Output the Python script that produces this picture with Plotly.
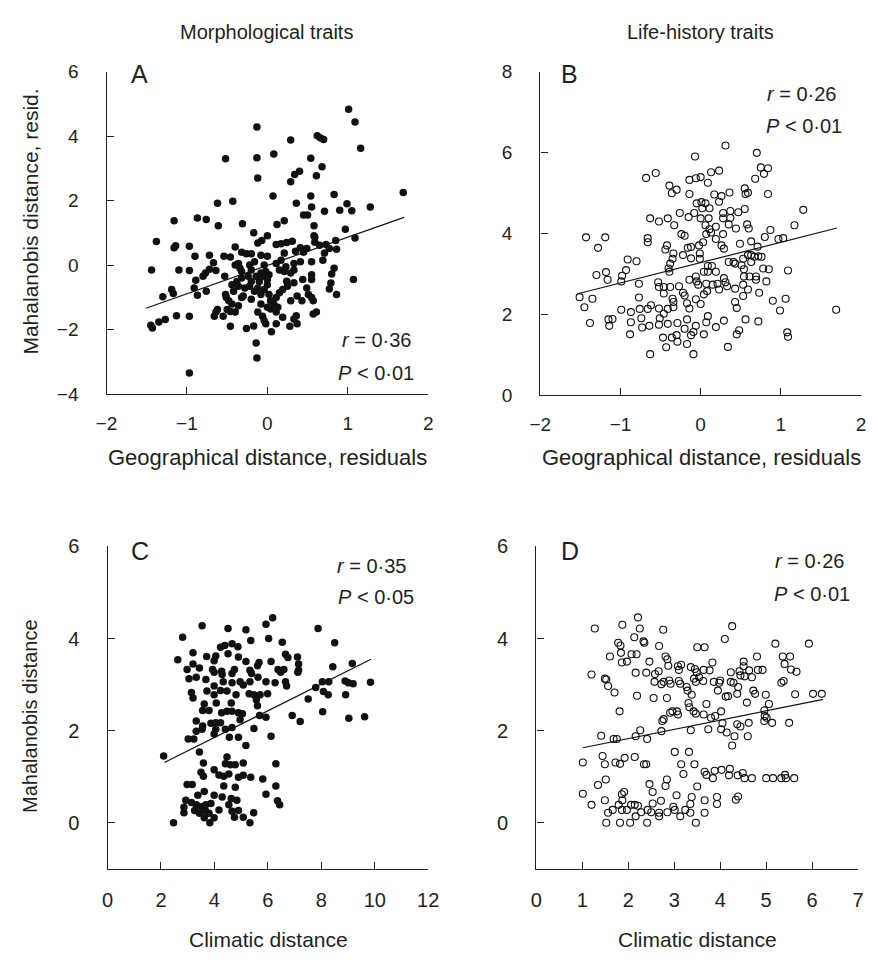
import plotly.graph_objects as go

# ---------------- data ----------------
# Panel A: morphological traits vs geographical distance residuals
a_points = [
    (1.01,4.83),(1.09,4.44),(-0.13,4.28),(0.29,3.88),(0.62,4.01),(0.66,3.94),(0.70,3.89),(1.16,3.62),
    (-0.52,3.30),(-0.13,3.33),(0.08,3.44),(0.54,3.31),(0.68,3.05),(-0.12,2.70),(0.34,2.81),(0.40,2.91),
    (0.61,2.77),(0.29,2.58),(0.07,2.14),(0.54,2.14),(0.83,2.19),(1.69,2.25),(-0.62,1.92),(-0.43,1.98),
    (0.36,1.92),(0.55,1.80),(0.99,1.90),(0.71,1.67),(0.90,1.70),(1.05,1.68),(1.28,1.80),(0.45,1.55),
    (0.50,1.55),(-1.16,1.37),(-0.87,1.46),(-0.76,1.41),(-0.61,1.22),(-0.31,1.28),(0.12,1.26),(0.21,1.37),
    (0.58,1.22),(-0.17,1.00),(0.00,0.91),(0.97,1.11),(0.58,0.91),
    (-1.38,0.73),(-1.16,0.54),(-1.14,0.60),(-0.97,0.58),(-0.90,0.27),(-0.72,0.30),(-0.67,0.07),(-0.54,0.27),
    (-0.46,0.25),(-0.40,0.56),(-0.32,0.40),(-0.26,0.35),(-0.20,0.35),(-0.12,0.68),(-0.07,0.76),(-0.08,0.30),
    (0.00,0.27),(0.11,0.64),(0.17,0.66),(0.24,0.70),(0.31,0.74),(0.21,0.37),(0.35,0.43),(0.41,0.54),
    (0.49,0.51),(0.59,0.86),(0.59,0.71),(0.65,0.61),(0.73,0.64),(0.77,0.51),(0.71,0.37),(0.85,0.76),
    (0.86,0.49),(1.09,0.84),
    (-1.44,-0.15),(-1.10,-0.15),(-0.97,-0.17),(-0.89,-0.47),(-0.80,-0.35),(-0.77,-0.25),(-0.72,-0.13),
    (-0.64,-0.17),(-0.53,-0.35),(-0.40,0.00),(-0.34,-0.10),(-0.36,0.05),(-0.22,0.00),(-0.20,-0.15),
    (-0.16,0.10),(-0.04,0.00),(-0.02,-0.20),(0.02,-0.30),(0.11,0.05),(0.15,-0.15),(0.21,-0.20),(0.29,-0.25),
    (0.33,0.05),(0.41,0.10),(0.55,0.10),(0.69,0.15),(0.55,-0.30),(0.55,-0.45),(0.44,-0.45),(0.33,-0.55),
    (0.24,-0.50),(0.80,-0.28),(0.83,-0.10),(1.07,-0.45),(0.79,-0.56),(0.77,-0.74),(0.86,-0.91),
    (-1.30,-0.98),(-1.19,-0.76),(-1.17,-0.88),(-0.91,-0.71),(-0.87,-0.94),(-0.76,-0.81),(-0.52,-0.91),
    (-0.51,-1.01),(-0.44,-0.61),(-0.42,-0.81),(-0.38,-0.51),(-0.32,-0.40),(-0.32,-1.01),(-0.28,-0.71),
    (-0.22,-0.66),(-0.20,-1.06),(-0.16,-0.81),(-0.12,-0.71),(-0.10,-0.51),(-0.08,-0.91),(-0.04,-0.76),
    (0.00,-0.61),(0.02,-0.91),(0.04,-1.11),(0.11,-1.01),(0.15,-0.86),(0.19,-0.76),(0.25,-0.66),(0.29,-1.11),
    (0.37,-0.96),(0.43,-1.11),(0.49,-0.71),(0.51,-0.91),(0.55,-1.01),(0.57,-1.11),(0.57,-1.52),(0.61,-1.46),
    (-1.45,-1.87),(-1.35,-1.77),(-1.27,-1.69),(-1.43,-1.95),(-1.13,-1.57),(-0.97,-1.59),(-0.66,-1.59),
    (-0.64,-1.46),(-0.62,-1.38),(-0.55,-1.59),(-0.50,-1.38),(-0.46,-1.44),(-0.40,-1.46),(-0.46,-1.90),
    (-0.26,-1.97),(-0.17,-1.89),(-0.12,-1.46),(-0.06,-1.59),(-0.04,-1.72),(-0.02,-1.82),(0.00,-1.31),
    (0.04,-1.36),(0.08,-1.21),(0.11,-1.46),(0.13,-1.31),(0.11,-1.82),(0.05,-2.07),(0.19,-1.62),(0.28,-1.90),
    (0.33,-1.67),(0.36,-1.57),(0.37,-1.82),(-0.14,-2.42),(-0.13,-2.88),(-0.97,-3.35),
    (-0.30,-0.96),(-0.48,-1.11),(-0.44,-1.21),(-0.36,-1.26),(-0.08,-1.21),(-0.06,-0.35),(0.00,-0.45),
    (-0.08,-0.25),(-0.14,-0.35),(-0.24,-0.35),(-0.20,-0.51),(-0.32,-0.20),(-0.36,-0.66),(0.23,-0.05),
    (0.33,-0.15),(0.45,0.40),(0.17,0.15),
]
a_fit_x = [-1.51, 1.70]
a_fit_y = [-1.34, 1.48]

# Panel B: life-history traits vs geographical distance residuals
b_points = [
    (0.31,6.17),(0.70,5.99),(-0.07,5.90),(-0.68,5.37),(-0.56,5.49),(-0.14,5.32),(-0.06,5.36),(0.00,5.39),
    (0.09,5.25),(0.13,5.51),(0.23,5.55),(0.75,5.63),(0.84,5.61),(0.79,5.47),(0.68,5.35),(-0.39,5.18),
    (-0.36,4.99),(-0.30,5.08),(-0.14,4.97),(0.17,4.96),(0.26,4.92),(0.36,5.01),(0.55,5.11),(0.56,4.97),
    (0.59,5.00),(0.84,4.97),(0.23,4.78),(-0.05,4.74),(0.01,4.77),(0.06,4.74),(0.02,4.62),(0.11,4.62),
    (-0.26,4.50),(-0.15,4.40),(-0.08,4.50),(0.00,4.37),(0.10,4.37),(0.28,4.50),(0.37,4.55),(0.47,4.52),
    (0.55,4.60),(0.28,4.37),(0.37,4.38),(1.28,4.58),(-0.63,4.37),(-0.52,4.29),(-0.41,4.37),(-0.33,4.20),
    (0.06,4.20),(0.35,4.22),(0.44,4.12),(0.58,4.22),(0.60,4.12),(0.87,4.08),(1.17,4.20),(0.11,4.10),
    (0.19,4.16),
    (-1.43,3.90),(-1.19,3.90),(-1.28,3.64),(-0.66,3.88),(-0.66,3.78),(-0.42,3.70),(-0.44,3.60),(-0.34,3.50),
    (-0.35,3.37),(-0.38,3.25),(-0.40,3.13),(-0.39,3.05),(-0.24,3.98),(-0.20,3.94),(-0.16,3.64),(-0.12,3.66),
    (-0.22,3.46),(-0.12,3.38),(-0.02,3.70),(-0.01,3.50),(-0.01,3.37),(0.03,3.78),(0.07,3.98),(0.13,4.02),
    (0.19,3.86),(0.28,3.98),(0.26,3.70),(0.29,3.62),(0.49,3.74),(0.63,3.80),(0.71,3.67),(0.80,3.91),
    (0.97,3.86),(1.03,3.88),
    (0.35,3.29),(0.41,3.29),(0.43,3.25),(0.53,3.37),(0.59,3.46),(0.63,3.46),(0.67,3.42),(0.72,3.43),
    (0.76,3.42),(0.63,3.29),(0.51,3.21),(0.54,3.11),(0.54,2.93),(0.61,2.93),(0.69,2.93),(0.69,2.85),
    (0.78,3.13),(0.85,3.11),(0.82,2.81),(1.09,3.08),
    (0.09,3.19),(0.14,3.19),(0.04,3.05),(0.09,3.05),(0.19,3.05),(-0.06,2.93),(-0.05,2.81),(-0.03,2.73),
    (-0.14,2.85),(0.07,2.75),(0.15,2.73),(0.21,2.75),(0.29,2.89),(0.31,2.79),(0.23,2.61),(0.33,2.69),
    (0.43,2.63),(0.53,2.73),(0.59,2.61),(0.53,2.45),(0.43,2.30),(0.45,2.15),(0.73,2.53),(0.90,2.33),
    (1.06,2.38),(0.99,2.09),(1.69,2.11),
    (-1.51,2.42),(-1.35,2.38),(-1.45,2.17),(-1.30,2.97),(-1.18,3.04),(-1.16,2.85),(-0.91,3.35),(-0.80,3.31),
    (-0.93,3.09),(-0.98,2.95),(-0.99,2.81),(-0.77,2.75),(-0.53,2.79),(-0.52,2.67),(-0.46,2.67),(-0.38,2.67),
    (-0.27,2.69),(-0.46,2.51),(-0.22,2.53),(-0.20,2.46),(-0.35,2.38),(-0.34,2.30),(-0.34,2.17),(-0.17,2.27),
    (-0.14,2.14),(-0.06,2.37),(0.00,2.25),(0.04,2.49),(0.08,2.57),
    (-0.77,2.41),(-0.62,2.22),(-0.66,2.13),(-0.76,2.13),(-0.87,2.05),(-0.99,2.11),(-0.52,2.14),(-0.41,2.13),
    (-0.46,2.01),(-0.51,1.90),(-0.52,1.74),(-0.74,1.90),(-0.87,1.80),(-0.73,1.67),(-0.64,1.71),(-0.41,1.76),
    (-0.29,1.78),(-0.17,1.87),(-0.20,1.64),(-0.12,1.48),(-0.06,1.71),(0.07,1.80),(0.09,1.95),(0.04,1.50),
    (0.19,1.68),(0.29,1.84),(0.56,1.87),(0.72,1.82),(0.48,1.60),(0.45,1.50),(1.08,1.55),(1.09,1.44),
    (-1.15,1.87),(-1.10,1.88),(-1.14,1.71),(-1.38,1.78),(-0.88,1.50),(-0.47,1.42),(-0.36,1.42),(-0.30,1.48),
    (-0.29,1.32),(-0.43,1.18),(-0.17,1.26),(-0.09,1.56),(0.34,1.19),(-0.63,1.01),(-0.09,1.01),
]
b_fit_x = [-1.52, 1.70]
b_fit_y = [2.51, 4.13]

# Panel C: morphological traits vs climatic distance
c_points = [
    (6.18,4.45),(5.93,4.31),(3.54,4.28),(4.51,4.22),(5.18,4.19),(7.88,4.22),(2.81,4.03),(5.36,3.96),
    (6.03,4.00),(6.54,3.92),(8.50,3.91),(4.23,3.81),(4.39,3.85),(4.66,3.89),(4.88,3.82),(3.20,3.69),
    (3.71,3.61),(4.51,3.67),(4.05,3.62),(4.90,3.60),(2.63,3.54),(3.20,3.45),(3.99,3.52),(5.18,3.50),
    (5.67,3.48),(6.12,3.50),(6.66,3.66),(6.75,3.59),(7.11,3.60),(7.15,3.45),(8.43,3.39),(9.16,3.46),
    (2.98,3.33),(3.44,3.36),(3.93,3.33),(4.27,3.29),(4.75,3.33),(5.33,3.31),(5.61,3.41),(6.38,3.33),
    (6.60,3.33),(7.15,3.31),
    (3.05,3.13),(3.32,3.16),(3.68,3.11),(3.99,3.27),(4.29,3.22),(4.33,3.06),(4.66,3.24),(4.66,3.04),
    (4.96,3.06),(5.08,2.99),(5.33,3.06),(5.39,3.24),(5.63,3.16),(5.93,3.06),(6.27,3.04),(6.48,3.27),
    (6.66,3.06),(6.70,2.97),(7.12,3.27),(8.04,3.06),(8.28,3.06),(8.89,3.08),(9.01,3.04),(9.19,3.02),
    (9.84,3.05),(7.79,2.94),(8.08,2.85),(8.26,2.78),(8.91,2.78),(7.51,2.69),
    (3.99,2.97),(3.72,2.86),(3.99,2.78),(4.23,2.87),(4.47,2.86),(4.81,2.78),(5.30,2.80),(5.48,2.78),
    (5.71,2.78),(5.99,2.80),(3.14,2.83),(3.20,2.71),(3.62,2.58),(4.07,2.60),(4.63,2.60),(5.57,2.67),
    (5.61,2.54),(3.56,2.44),(3.80,2.44),(4.27,2.39),(4.47,2.42),(4.66,2.42),(4.90,2.39),(5.05,2.37),
    (4.96,2.24),(5.69,2.33),(5.93,2.29),(6.91,2.33),(7.21,2.20),(8.05,2.41),(9.03,2.27),(9.62,2.30),
    (3.32,2.21),(3.56,2.10),(3.87,2.16),(4.05,2.17),(4.23,2.17),(3.32,1.99),(3.54,2.03),(3.99,1.93),
    (4.05,2.03),(4.41,2.03),(4.66,2.07),(4.56,1.86),(4.90,1.86),(5.48,2.05),(6.12,1.88),(3.02,1.82),
    (3.23,1.82),(5.18,1.68),(2.10,1.45),(3.44,1.54),(4.47,1.43),
    (3.59,1.30),(4.41,1.28),(4.60,1.26),(4.78,1.26),(5.08,1.30),(6.30,1.28),(3.50,1.10),(3.59,1.01),
    (3.99,1.15),(4.17,1.04),(4.35,1.01),(4.54,1.06),(4.90,0.99),(5.08,1.03),(5.36,0.99),(5.81,0.95),
    (2.98,0.83),(3.17,0.83),(4.35,0.80),(4.78,0.77),(6.30,0.80),(3.62,0.68),(3.38,0.60),(3.99,0.60),
    (4.29,0.56),(4.63,0.53),(4.84,0.49),(5.93,0.62),(6.36,0.48),(6.44,0.39),
    (2.93,0.49),(3.14,0.44),(3.32,0.39),(3.50,0.35),(3.68,0.39),(3.87,0.42),(2.86,0.34),(2.86,0.22),
    (3.26,0.27),(3.44,0.21),(3.66,0.27),(3.80,0.21),(4.17,0.28),(4.54,0.39),(4.66,0.25),(4.90,0.27),
    (4.75,0.12),(5.08,0.12),(3.62,0.11),(3.99,0.11),(5.47,0.22),(2.47,0.00),(3.83,0.00),(5.33,0.00),
]
c_fit_x = [2.13, 9.86]
c_fit_y = [1.31, 3.55]

# Panel D: life-history traits vs climatic distance
d_points = [
    (2.21,4.46),(1.27,4.22),(1.87,4.30),(2.25,4.22),(2.76,4.19),(4.26,4.27),(2.13,4.03),(2.33,3.94),
    (2.35,3.91),(1.78,3.91),(1.83,3.85),(2.67,3.84),(4.10,3.99),(3.50,3.81),(3.66,3.81),(5.20,3.89),
    (5.93,3.89),(1.84,3.69),(2.07,3.66),(2.18,3.66),(1.60,3.61),(2.81,3.61),(2.85,3.55),(4.80,3.61),
    (5.36,3.61),(5.52,3.61),(1.86,3.48),(1.97,3.50),(2.46,3.50),(2.87,3.41),(3.08,3.40),(3.15,3.43),
    (3.10,3.32),(3.36,3.38),(3.45,3.34),(3.49,3.27),(3.64,3.32),(3.77,3.31),(3.83,3.48),(4.51,3.50),
    (4.51,3.40),(4.42,3.29),(4.63,3.31),(4.82,3.32),(4.92,3.32),(5.40,3.45),(5.54,3.33),(5.66,3.28),
    (4.23,3.27),(1.20,3.22),(2.16,3.26),(2.39,3.26),(2.58,3.23),(2.66,3.29),
    (1.49,3.13),(1.52,3.11),(1.56,2.97),(1.70,2.83),(2.57,3.06),(2.72,3.01),(2.77,3.06),(2.89,3.09),
    (2.92,3.02),(3.10,3.08),(3.13,3.02),(3.27,2.95),(3.29,2.87),(3.38,2.78),(3.43,3.13),(3.47,3.06),
    (3.54,3.16),(3.63,3.08),(3.86,3.06),(3.98,3.04),(4.00,3.09),(3.95,2.87),(4.23,3.06),(4.29,3.04),
    (4.39,2.95),(4.44,3.20),(4.53,3.18),(4.69,3.16),(4.72,2.87),(4.76,2.80),(4.12,2.74),(4.17,2.75),
    (4.37,2.80),(4.58,2.61),(4.99,2.78),(5.06,2.58),(5.33,3.04),(5.38,3.08),(5.63,2.79),(6.02,2.80),
    (6.21,2.80),
    (2.19,2.76),(2.55,2.71),(2.84,2.71),(1.81,2.42),(3.31,2.60),(3.33,2.51),(3.70,2.58),(2.91,2.39),
    (2.96,2.42),(3.06,2.42),(3.08,2.35),(2.77,2.25),(2.74,2.21),(3.42,2.42),(3.47,2.37),(3.64,2.35),
    (3.80,2.28),(3.89,2.32),(4.02,2.42),(4.05,2.16),(4.37,2.14),(4.44,2.09),(4.62,2.17),(4.96,2.44),
    (4.97,2.32),(5.01,2.28),(4.96,2.21),(5.13,2.17),(5.50,2.17),
    (1.41,1.89),(1.68,1.82),(1.75,1.82),(2.26,2.01),(2.16,1.88),(2.41,1.82),(2.72,1.99),(3.36,2.01),
    (3.74,2.03),(4.02,2.03),(4.14,1.96),(4.31,1.88),(4.60,1.88),(4.26,1.68),
    (1.01,1.31),(1.44,1.45),(1.49,1.27),(1.72,1.31),(1.82,1.28),(1.92,1.41),(2.14,1.43),(2.34,1.27),
    (2.39,1.27),(3.01,1.54),(3.32,1.54),(3.15,1.27),(3.44,1.27),(3.20,1.06),(3.66,1.11),(3.70,1.04),
    (3.84,0.97),(3.88,1.13),(4.03,1.15),(4.21,1.17),(4.19,1.03),(4.38,1.03),(4.49,1.08),(4.53,0.97),
    (4.69,0.97),(5.00,0.97),(5.15,0.97),(5.33,0.97),(5.41,1.04),(5.43,0.97),(5.61,0.97),
    (1.51,0.94),(1.34,0.82),(1.01,0.63),(1.20,0.39),(1.49,0.49),(1.56,0.22),(1.66,0.28),(1.79,0.39),
    (1.86,0.62),(1.91,0.67),(1.87,0.49),(1.86,0.28),(1.97,0.28),(2.06,0.39),(2.14,0.39),(2.21,0.37),
    (2.28,0.23),(2.42,0.28),(2.46,0.84),(2.53,0.67),(2.53,0.42),(2.50,0.23),(2.67,0.22),(2.71,0.48),
    (2.67,0.14),(2.81,0.80),(2.84,0.94),(2.85,0.23),(2.98,0.35),(3.01,0.28),(3.05,0.60),(3.13,0.14),
    (3.24,0.28),(3.35,0.41),(3.38,0.56),(3.35,0.22),(3.50,0.79),(3.66,0.49),(3.66,0.22),(3.93,0.56),
    (3.93,0.41),(4.34,0.50),(4.39,0.57),(1.52,0.00),(1.82,0.00),(2.04,0.00),(2.16,0.14),(2.41,0.00),
    (3.47,0.00),
]
d_fit_x = [1.01, 6.24]
d_fit_y = [1.63, 2.68]

column_titles = ["Morphological traits", "Life-history traits"]
panel_letters = ["A", "B", "C", "D"]
stats_r = ["0·36", "0·26", "0·35", "0·26"]
stats_p = ["0·01", "0·01", "0·05", "0·01"]

# ---------------- figure ----------------
W, H = 872, 960
FONT = "Liberation Sans, Arial, Helvetica, sans-serif"
INK = "#231f20"

def px(x):
    return x / W

def py(y):
    return 1 - y / H

fig = go.Figure()

def unzip(pts):
    return [p[0] for p in pts], [p[1] for p in pts]

panels = [
    (a_points, a_fit_x, a_fit_y, True, "x", "y"),
    (b_points, b_fit_x, b_fit_y, False, "x2", "y2"),
    (c_points, c_fit_x, c_fit_y, True, "x3", "y3"),
    (d_points, d_fit_x, d_fit_y, False, "x4", "y4"),
]

for pts, fx, fy, filled, xa, ya in panels:
    xs, ys = unzip(pts)
    if filled:
        marker = dict(symbol="circle", size=7.5, color="#111111", line=dict(width=0))
    else:
        marker = dict(symbol="circle-open", size=7, color="#111111", line=dict(width=1.1))
    fig.add_trace(go.Scatter(x=xs, y=ys, mode="markers", marker=marker,
                             xaxis=xa, yaxis=ya, showlegend=False, hoverinfo="skip"))
    fig.add_trace(go.Scatter(x=fx, y=fy, mode="lines", line=dict(color="#111111", width=1.2),
                             xaxis=xa, yaxis=ya, showlegend=False, hoverinfo="skip"))

def axis_style(size):
    return dict(showline=True, linecolor=INK, linewidth=1.4, ticks="inside", ticklen=7,
                tickwidth=1.3, tickcolor=INK, showgrid=False, zeroline=False,
                tickfont=dict(family=FONT, size=size, color=INK), fixedrange=True)

fig.update_layout(
    width=W, height=H, margin=dict(l=0, r=0, t=0, b=0),
    paper_bgcolor="white", plot_bgcolor="white",
    xaxis=dict(domain=[px(98), px(428)], range=[-2, 2], dtick=1, anchor="y",
               ticklabelstandoff=12, **axis_style(19)),
    yaxis=dict(domain=[py(392), py(62)], range=[-4, 6], dtick=2, anchor="x",
               ticklabelstandoff=23, **axis_style(19)),
    xaxis2=dict(domain=[px(543), 1.0], range=[-2, 2], dtick=1, anchor="y2",
                ticklabelstandoff=12, **axis_style(19)),
    yaxis2=dict(domain=[py(393), py(62)], range=[0, 8], dtick=2, anchor="x2",
                ticklabelstandoff=23, **axis_style(19)),
    xaxis3=dict(domain=[px(99), px(428)], range=[0, 12], dtick=2, anchor="y3",
                ticklabelstandoff=13, **axis_style(20)),
    yaxis3=dict(domain=[py(878), py(548)], range=[-1, 6], dtick=2, tick0=0, anchor="x3",
                ticklabelstandoff=23, **axis_style(20)),
    xaxis4=dict(domain=[px(539), px(869)], range=[0, 7], dtick=1, anchor="y4",
                ticklabelstandoff=13, **axis_style(20)),
    yaxis4=dict(domain=[py(878), py(548)], range=[-1, 6], dtick=2, tick0=0, anchor="x4",
                ticklabelstandoff=23, **axis_style(20)),
)

ann = []

def text(x, y, s, size=19, xanchor="center", angle=0):
    ann.append(dict(x=px(x), y=py(y), xref="paper", yref="paper", text=s, showarrow=False,
                    xanchor=xanchor, yanchor="middle", textangle=angle,
                    font=dict(family=FONT, size=size, color=INK)))

# column titles
text(262, 22, column_titles[0], size=20)
text(707, 22, column_titles[1], size=20)

# panel letters
for (x, y), s in zip([(132, 64), (573, 64), (132, 553), (573, 553)], panel_letters):
    text(x, y, s, size=25)

# statistics
stat_pos = [((413, 337), (415, 370)), ((849, 85), (855, 118)),
            ((408, 568), (415, 600)), ((858, 563), (863, 597))]
for ((rx, ry), (qx, qy)), r, p in zip(stat_pos, stats_r, stats_p):
    text(rx, ry, "<i>r</i> = " + r, size=20, xanchor="right")
    text(qx, qy, "<i>P</i> &lt; " + p, size=20, xanchor="right")

# axis titles
text(263, 457, "Geographical distance, residuals", size=22)
text(708, 457, "Geographical distance, residuals", size=22)
text(264, 950, "Climatic distance", size=21)
text(704, 950, "Climatic distance", size=21)
text(20, 215, "Mahalanobis distance, resid.", size=21, angle=-90)
text(20, 722, "Mahalanobis distance", size=20, angle=-90)

fig.update_layout(annotations=ann)

fig.write_html("out.html")
